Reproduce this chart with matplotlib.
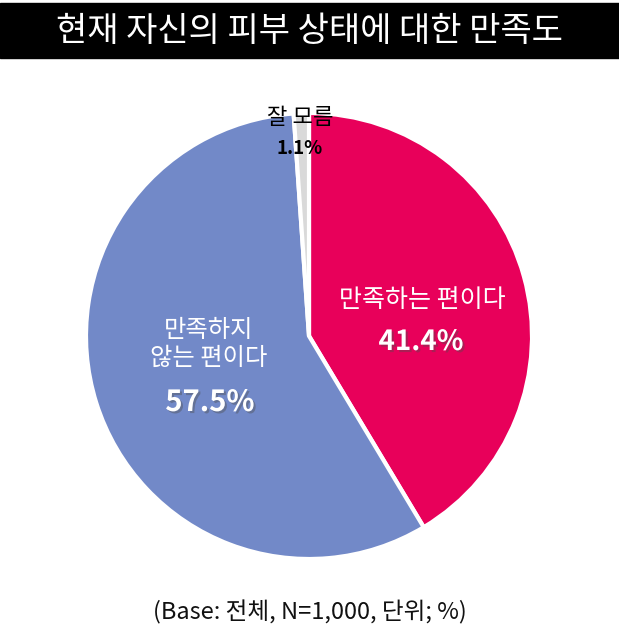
import matplotlib.pyplot as plt
import matplotlib.patheffects as pe

plt.rcParams['font.family'] = ['Noto Sans CJK KR', 'DejaVu Sans']

# data
labels = ['만족하는 편이다', '만족하지\n않는 편이다', '잘 모름']
values = [41.4, 57.5, 1.1]
pct_text = ['41.4%', '57.5%', '1.1%']
colors = ['#E8005A', '#7289C8', '#D9D9D9']

W, H = 619, 642
fig = plt.figure(figsize=(W / 100, H / 100), dpi=100)
ax = fig.add_axes([0, 0, 1, 1])

cx, cy, r = 309, H - 336, 223
wedges, _ = ax.pie(values, colors=colors, startangle=90, counterclock=False,
                   center=(cx, cy), radius=r, explode=[0.018, 0, 0],
                   wedgeprops=dict(edgecolor='white', linewidth=3))
ax.set_xlim(0, W)
ax.set_ylim(0, H)
ax.set_aspect('auto')
ax.axis('off')

# title bar
ax.add_patch(plt.Rectangle((0, H - 58), W, 55, color='black', zorder=5))
ax.text(W / 2, H - 31, '현재 자신의 피부 상태에 대한 만족도', color='white',
        fontsize=24.5, ha='center', va='center', zorder=6)

shadow = [pe.withSimplePatchShadow(offset=(1.5, -1.5), alpha=0.4)]

# red label
ax.text(422, H - 300, labels[0], color='white', fontsize=18, ha='center', va='center')
ax.text(421, H - 342, pct_text[0], color='white', fontsize=20, fontweight='bold',
        ha='center', va='center', path_effects=shadow)

# blue label
ax.text(209, H - 344, labels[1], color='white', fontsize=17.5, ha='center', va='center',
        linespacing=1.1)
ax.text(210, H - 402, pct_text[1], color='white', fontsize=21, fontweight='bold',
        ha='center', va='center', path_effects=shadow)

# gray label
ax.text(300, H - 118, labels[2], color='black', fontsize=16, ha='center', va='center')
ax.text(300, H - 149, pct_text[2], color='black', fontsize=13.5, fontweight='bold',
        ha='center', va='center')

ax.text(W / 2, H - 612, '(Base: 전체, N=1,000, 단위; %)', color='#111111',
        fontsize=17, ha='center', va='center')

fig.savefig('out.png', dpi=100, facecolor='white')
